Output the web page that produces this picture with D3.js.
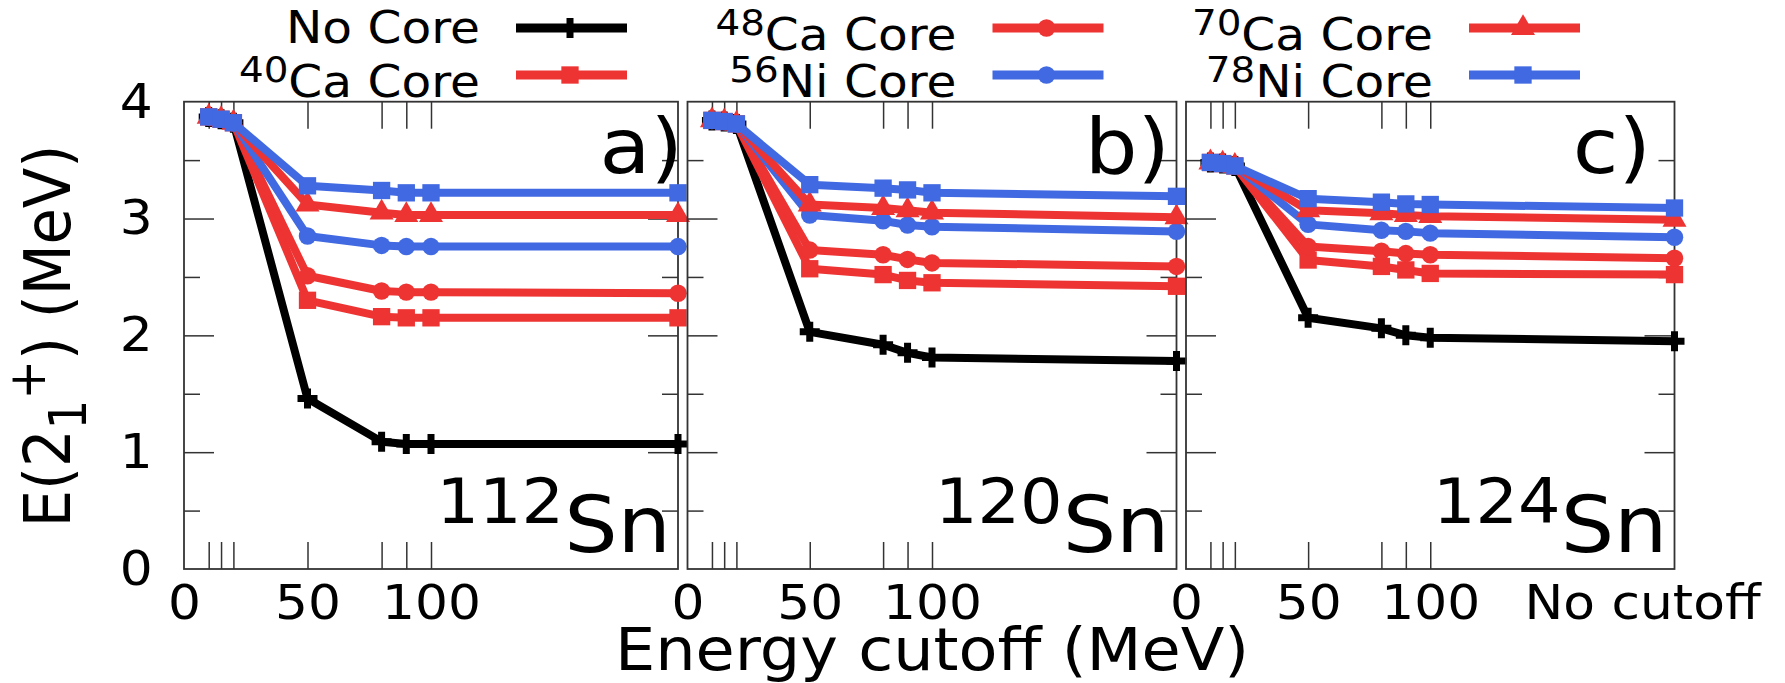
<!DOCTYPE html>
<html>
<head>
<meta charset="utf-8">
<script src="https://cdn.jsdelivr.net/npm/d3@7"></script>
<style>
  html, body { margin: 0; padding: 0; background: #fff; }
  svg { display: block; font-family: "DejaVu Sans", sans-serif; }
</style>
</head>
<body>
<svg id="chart"></svg>
<script>
// energy cutoff in MeV; 200 is where the "No cutoff" point sits
var cutoffs = [10, 15, 20, 50, 80, 90, 100, 200];

var seriesMass  = ["", "40", "48", "56", "70", "78"];
var seriesLabel = ["No Core", "Ca Core", "Ca Core", "Ni Core", "Ca Core", "Ni Core"];

var panelTags = ["a)", "b)", "c)"];
var panelMass = ["112", "120", "124"];

// E(2+) in MeV, one row per series (No core, 40Ca, 48Ca, 56Ni, 70Ca, 78Ni)
var sn112 = [
  [3.87, 3.85, 3.82, 1.46, 1.09, 1.07, 1.07, 1.07],
  [3.87, 3.85, 3.82, 2.30, 2.16, 2.15, 2.15, 2.15],
  [3.87, 3.85, 3.82, 2.51, 2.38, 2.37, 2.37, 2.36],
  [3.87, 3.85, 3.82, 2.85, 2.77, 2.76, 2.76, 2.76],
  [3.87, 3.85, 3.82, 3.12, 3.05, 3.03, 3.03, 3.03],
  [3.87, 3.85, 3.82, 3.28, 3.24, 3.22, 3.22, 3.22]
];
var sn120 = [
  [3.84, 3.83, 3.81, 2.03, 1.92, 1.85, 1.81, 1.78],
  [3.84, 3.83, 3.81, 2.57, 2.52, 2.47, 2.45, 2.42],
  [3.84, 3.83, 3.81, 2.73, 2.69, 2.65, 2.62, 2.59],
  [3.84, 3.83, 3.81, 3.03, 2.98, 2.945, 2.93, 2.89],
  [3.84, 3.83, 3.81, 3.12, 3.09, 3.07, 3.05, 3.01],
  [3.84, 3.83, 3.81, 3.29, 3.26, 3.245, 3.22, 3.19]
];
var sn124 = [
  [3.48, 3.47, 3.45, 2.15, 2.06, 2.00, 1.98, 1.95],
  [3.48, 3.47, 3.45, 2.645, 2.59, 2.56, 2.53, 2.52],
  [3.48, 3.47, 3.45, 2.76, 2.72, 2.70, 2.69, 2.66],
  [3.48, 3.47, 3.45, 2.95, 2.90, 2.89, 2.875, 2.84],
  [3.48, 3.47, 3.45, 3.07, 3.045, 3.03, 3.02, 2.99],
  [3.48, 3.47, 3.45, 3.17, 3.14, 3.125, 3.12, 3.09]
];

var yTickValues = [0, 1, 2, 3, 4];
var xTickValues = [0, 50, 100, 200];
var xTickLabels = ["0", "50", "100", "No cutoff"];
var xMinorTicks = [10, 15, 20, 50, 80, 90, 100];

// ---- styling / layout ----
var red = "#ee3333", blue = "#4169e1";
var seriesColor = ["#000000", red, red, blue, red, blue];
var seriesShape = ["plus", "square", "circle", "circle", "triangle", "square"];

var W = 1785, H = 683;
var SX = 1.08; // text in the original is a bit wide
var panelLeft  = [184, 687.5, 1186];
var panelWidth = [494, 489, 488.5];
var tagOffset  = [5, -6.5, -23.5];
var plotTop = 101.7, plotBottom = 569;
var frameColor = "#333";

var svg = d3.select("#chart").attr("width", W).attr("height", H);

var y = d3.scaleLinear().domain([0, 4]).range([plotBottom, plotTop]);

function markerPath(shape) {
  if (shape === "plus") return "M-10,0H10M0,-10V10";
  if (shape === "square") return d3.symbol(d3.symbolSquare, 300)();
  if (shape === "circle") return d3.symbol(d3.symbolCircle, 240)();
  return d3.symbol(d3.symbolTriangle, 250)();
}

function styleMarker(sel, s) {
  if (seriesShape[s] === "plus") {
    sel.attr("fill", "none").attr("stroke", seriesColor[s]).attr("stroke-width", 7);
  } else {
    sel.attr("fill", seriesColor[s]).attr("stroke", "none");
  }
}

function stretchText(g, x, yy, size, anchor) {
  return g.append("text")
    .attr("transform", "translate(" + x + "," + yy + ") scale(" + SX + ",1)")
    .attr("font-size", size)
    .attr("text-anchor", anchor)
    .attr("fill", "#000");
}

function cleanAxis(g) {
  g.select(".domain").remove();
  g.selectAll(".tick line").attr("stroke", frameColor).attr("stroke-width", 1.5);
}

var panelData = [sn112, sn120, sn124];

panelData.forEach(function(rows, p) {
  var x0 = panelLeft[p], x1 = panelLeft[p] + panelWidth[p];
  var x = d3.scaleLinear().domain([0, 200]).range([x0, x1]);
  var g = svg.append("g");

  // y ticks, both sides, inward
  g.append("g").attr("transform", "translate(" + x0 + ",0)")
    .call(d3.axisLeft(y).tickValues([1, 2, 3]).tickSize(-30).tickFormat(""))
    .call(cleanAxis);
  g.append("g").attr("transform", "translate(" + x0 + ",0)")
    .call(d3.axisLeft(y).tickValues([0.5, 1.5, 2.5, 3.5]).tickSize(-16).tickFormat(""))
    .call(cleanAxis);
  g.append("g").attr("transform", "translate(" + x1 + ",0)")
    .call(d3.axisRight(y).tickValues([1, 2, 3]).tickSize(-30).tickFormat(""))
    .call(cleanAxis);
  g.append("g").attr("transform", "translate(" + x1 + ",0)")
    .call(d3.axisRight(y).tickValues([0.5, 1.5, 2.5, 3.5]).tickSize(-16).tickFormat(""))
    .call(cleanAxis);

  // x ticks, bottom and top, inward
  g.append("g").attr("transform", "translate(0," + plotBottom + ")")
    .call(d3.axisBottom(x).tickValues(xMinorTicks).tickSize(-27).tickFormat(""))
    .call(cleanAxis);
  g.append("g").attr("transform", "translate(0," + plotTop + ")")
    .call(d3.axisTop(x).tickValues(xMinorTicks).tickSize(-27).tickFormat(""))
    .call(cleanAxis);

  g.append("rect")
    .attr("x", x0).attr("y", plotTop)
    .attr("width", x1 - x0).attr("height", plotBottom - plotTop)
    .attr("fill", "none").attr("stroke", frameColor).attr("stroke-width", 1.8);

  // x tick labels
  var nLabels = (p === 2) ? 4 : 3;
  var xLab = g.append("g").attr("transform", "translate(0," + plotBottom + ")")
    .call(d3.axisBottom(x).tickValues(xTickValues.slice(0, nLabels)).tickSize(0).tickPadding(16)
      .tickFormat(function(d, i) { return xTickLabels[i]; }));
  xLab.select(".domain").remove();
  xLab.selectAll("text")
    .attr("font-size", 48).attr("font-family", "DejaVu Sans, sans-serif").attr("fill", "#000")
    .attr("transform", "scale(" + SX + ",1)")
    .attr("dx", function(d) { return d === 200 ? -30 : 0; });

  // y tick labels only on first panel
  if (p === 0) {
    var yLab = g.append("g").attr("transform", "translate(" + x0 + ",0)")
      .call(d3.axisLeft(y).tickValues(yTickValues).tickSize(0).tickPadding(29).tickFormat(d3.format("d")));
    yLab.select(".domain").remove();
    yLab.selectAll("text")
      .attr("font-size", 48).attr("font-family", "DejaVu Sans, sans-serif").attr("fill", "#000")
      .attr("transform", "scale(" + SX + ",1)");
  }

  // series
  var line = d3.line().x(function(d) { return x(d[0]); }).y(function(d) { return y(d[1]); });
  rows.forEach(function(vals, s) {
    var pts = cutoffs.map(function(c, i) { return [c, vals[i]]; });
    g.append("path").datum(pts)
      .attr("d", line)
      .attr("fill", "none")
      .attr("stroke", seriesColor[s])
      .attr("stroke-width", 8)
      .attr("stroke-linejoin", "round");
    var m = g.selectAll(null).data(pts).enter().append("path")
      .attr("transform", function(d) { return "translate(" + x(d[0]) + "," + y(d[1]) + ")"; })
      .attr("d", markerPath(seriesShape[s]));
    styleMarker(m, s);
  });

  // panel tag and nucleus label
  stretchText(g, x1 + tagOffset[p], 173, 77, "end").text(panelTags[p]);
  var nuc = stretchText(g, x1 - 7, 552, 78, "end");
  nuc.append("tspan").attr("font-size", 62).attr("dy", -29).text(panelMass[p]);
  nuc.append("tspan").attr("dy", 29).text("Sn");
});

// axis titles
stretchText(svg, 932, 670, 59, "middle").text("Energy cutoff (MeV)");

var yTitle = svg.append("text")
  .attr("transform", "translate(70,336) scale(" + SX + ",1) rotate(-90)")
  .attr("text-anchor", "middle")
  .attr("font-size", 59)
  .attr("fill", "#000");
yTitle.append("tspan").text("E(2");
yTitle.append("tspan").attr("font-size", 47).attr("dy", 15).text("1");
yTitle.append("tspan").attr("font-size", 47).attr("dy", -38).text("+");
yTitle.append("tspan").attr("dy", 23).text(") (MeV)");

// legend: 3 columns x 2 rows
var legend = svg.append("g");
seriesLabel.forEach(function(lab, i) {
  var col = Math.floor(i / 2), row = i % 2;
  var textRight = 480 + col * 476.5;
  var ly = row === 0 ? 28 : 75;
  var base = ly + (seriesMass[i] ? 22 : 15);
  var t = stretchText(legend, textRight, base, 45, "end");
  if (seriesMass[i]) {
    t.append("tspan").attr("font-size", 36).attr("dy", -15).text(seriesMass[i]);
    t.append("tspan").attr("dy", 15).text(lab);
  } else {
    t.append("tspan").text(lab);
  }
  legend.append("line")
    .attr("x1", textRight + 36).attr("x2", textRight + 147)
    .attr("y1", ly).attr("y2", ly)
    .attr("stroke", seriesColor[i]).attr("stroke-width", 9);
  var mk = legend.append("path")
    .attr("transform", "translate(" + (textRight + 90) + "," + ly + ")")
    .attr("d", markerPath(seriesShape[i]));
  styleMarker(mk, i);
});
</script>
</body>
</html>
